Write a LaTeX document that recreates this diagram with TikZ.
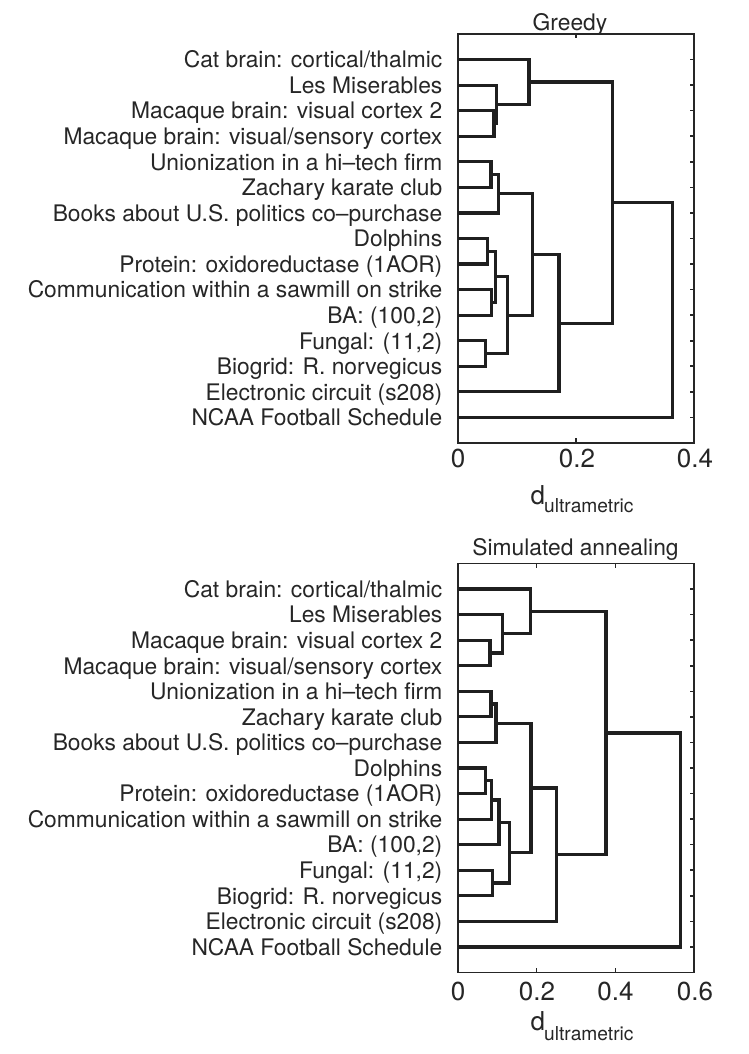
\documentclass[tikz,border=0pt]{standalone}
\usepackage{fontspec}
\setmainfont{TeX Gyre Heros}
\usetikzlibrary{calc}
\newcommand\dmerge[5]{\draw[dend] (#1,#2) -- (#5,#2) -- (#5,#4) -- (#3,#4);}
\tikzset{
  dend/.style={line width=3.2pt, line join=miter, line cap=butt, black!88},
  axisline/.style={line width=1.6pt, black!85},
  lbl/.style={anchor=base east, inner sep=0pt, font=\fontsize{22.8}{22.8}\selectfont, text=black!85},
  ttl/.style={anchor=base, inner sep=0pt, font=\fontsize{22.8}{22.8}\selectfont, text=black!85},
  ticklbl/.style={anchor=base, inner sep=0pt, font=\fontsize{26}{26}\selectfont, text=black!85},
  dlbl/.style={anchor=base west, inner sep=0pt, font=\fontsize{26}{26}\selectfont, text=black!85},
  sublbl/.style={anchor=base west, inner sep=0pt, font=\fontsize{19.2}{19.2}\selectfont, text=black!85}
}
\begin{document}
\begin{tikzpicture}[x=1pt,y=-1pt]
\useasboundingbox (0,0) rectangle (748,1054);

% ---------------- Greedy ----------------
\node[ttl] (gtitle) at (570,31) {Greedy};
\begin{scope}[shift={(458pt,-34pt)}, x=590pt, y=-25.56pt]
  \draw[axisline] (0,0) rectangle (0.4,16);
  \foreach \i in {1,...,15} \draw[axisline] (0.4,\i) -- ++(-4.5pt,0pt);
  \draw[axisline] (0.2,0) -- ++(0pt,-4.5pt);
  \draw[axisline] (0.2,16) -- ++(0pt,4.5pt);
  \foreach \i/\t in {1/{Cat brain: cortical/thalmic},2/{Les Miserables},3/{Macaque brain: visual cortex 2},4/{Macaque brain: visual/sensory cortex},5/{Unionization in a hi–tech firm},6/{Zachary karate club},7/{Books about U.S. politics co–purchase},8/{Dolphins},9/{Protein: oxidoreductase (1AOR)},10/{Communication within a sawmill on strike},11/{BA: (100,2)},12/{Fungal: (11,2)},13/{Biogrid: R. norvegicus},14/{Electronic circuit (s208)},15/{NCAA Football Schedule}}
    \node[lbl] (gl\i) at ($(0,\i)+(-15.5pt,-8.3pt)$) {\t};
  \dmerge{0}{3}{0}{4}{0.061}
  \dmerge{0}{2}{0.061}{3.5}{0.0656}
  \dmerge{0}{1}{0.0656}{2.75}{0.1203}
  \dmerge{0}{5}{0}{6}{0.0559}
  \dmerge{0.0559}{5.5}{0}{7}{0.0684}
  \dmerge{0}{8}{0}{9}{0.050}
  \dmerge{0}{10}{0}{11}{0.057}
  \dmerge{0.050}{8.5}{0.057}{10.5}{0.064}
  \dmerge{0}{12}{0}{13}{0.047}
  \dmerge{0.064}{9.5}{0.047}{12.5}{0.0836}
  \dmerge{0.0684}{6.25}{0.0836}{11}{0.126}
  \dmerge{0.126}{8.625}{0}{14}{0.171}
  \dmerge{0.1203}{1.875}{0.171}{11.3125}{0.2616}
  \dmerge{0.2616}{6.59375}{0}{15}{0.364}
\end{scope}
\node[ticklbl] (gt0) at (458,467.3) {0};
\node[ticklbl] (gt2) at (577,467.3) {0.2};
\node[ticklbl] (gt4) at (695,467.3) {0.4};
\node[dlbl] (gd) at (530.5,504) {d};
\node[sublbl] (gsub) at (544,512) {ultrametric};

% ---------------- Simulated annealing ----------------
\node[ttl] (stitle) at (575.5,555.7) {Simulated annealing};
\begin{scope}[shift={(458pt,-563.5pt)}, x=393.33pt, y=-25.56pt]
  \draw[axisline] (0,0) rectangle (0.6,16);
  \foreach \i in {1,...,15} \draw[axisline] (0.6,\i) -- ++(-4.5pt,0pt);
  \foreach \v in {0.2,0.4} {
    \draw[axisline] (\v,0) -- ++(0pt,-4.5pt);
    \draw[axisline] (\v,16) -- ++(0pt,4.5pt);
  }
  \foreach \i/\t in {1/{Cat brain: cortical/thalmic},2/{Les Miserables},3/{Macaque brain: visual cortex 2},4/{Macaque brain: visual/sensory cortex},5/{Unionization in a hi–tech firm},6/{Zachary karate club},7/{Books about U.S. politics co–purchase},8/{Dolphins},9/{Protein: oxidoreductase (1AOR)},10/{Communication within a sawmill on strike},11/{BA: (100,2)},12/{Fungal: (11,2)},13/{Biogrid: R. norvegicus},14/{Electronic circuit (s208)},15/{NCAA Football Schedule}}
    \node[lbl] (sl\i) at ($(0,\i)+(-15.5pt,-8.3pt)$) {\t};
  \dmerge{0}{3}{0}{4}{0.0814}
  \dmerge{0}{2}{0.0814}{3.5}{0.1127}
  \dmerge{0}{1}{0.1127}{2.75}{0.1848}
  \dmerge{0}{5}{0}{6}{0.0839}
  \dmerge{0.0839}{5.5}{0}{7}{0.0966}
  \dmerge{0}{8}{0}{9}{0.0704}
  \dmerge{0.0704}{8.5}{0}{10}{0.0857}
  \dmerge{0.0857}{9.25}{0}{11}{0.1042}
  \dmerge{0}{12}{0}{13}{0.0882}
  \dmerge{0.1042}{10.125}{0.0882}{12.5}{0.1304}
  \dmerge{0.0966}{6.25}{0.1304}{11.3125}{0.1856}
  \dmerge{0.1856}{8.78125}{0}{14}{0.251}
  \dmerge{0.1848}{1.875}{0.251}{11.390625}{0.3763}
  \dmerge{0.3763}{6.6328}{0}{15}{0.5662}
\end{scope}
\node[ticklbl] (st0) at (458,1000.7) {0};
\node[ticklbl] (st2) at (537,1000.7) {0.2};
\node[ticklbl] (st4) at (615.5,1000.7) {0.4};
\node[ticklbl] (st6) at (695,1000.7) {0.6};
\node[dlbl] (sd) at (530.5,1030.7) {d};
\node[sublbl] (ssub) at (544,1040) {ultrametric};
\end{tikzpicture}
\end{document}
